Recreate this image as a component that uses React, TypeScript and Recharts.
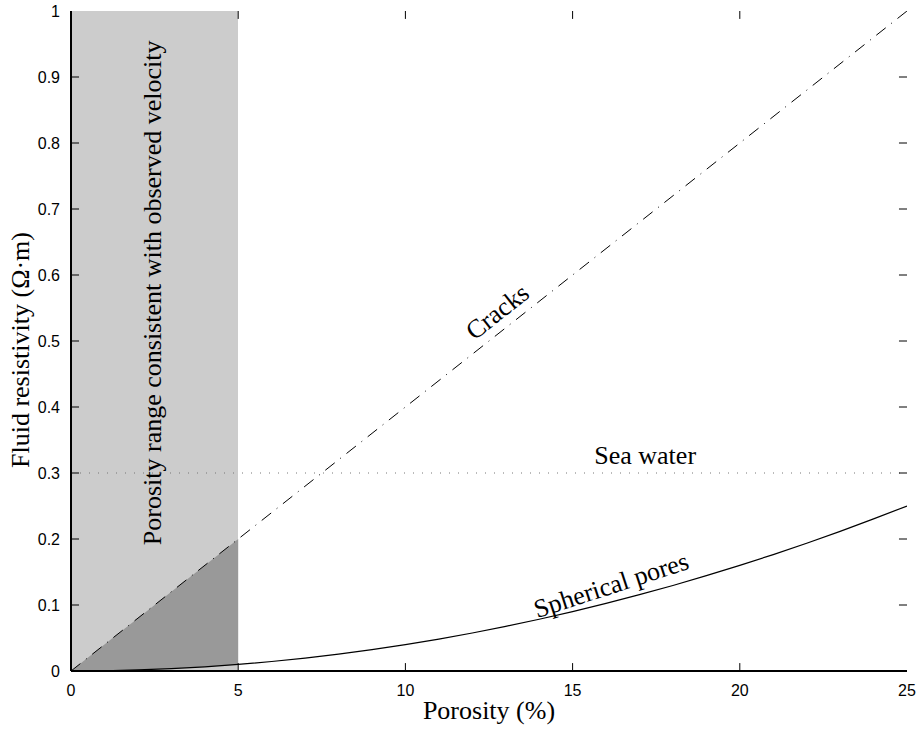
import React from 'react';
import {
  ComposedChart,
  CartesianGrid,
  Line,
  Area,
  XAxis,
  YAxis,
  ReferenceDot,
} from 'recharts';

const SANS = '"Liberation Sans", Arial, Helvetica, sans-serif';
const SERIF = '"Liberation Serif", "Times New Roman", Times, serif';

// Axis ticks
const xTicks = [0, 5, 10, 15, 20, 25];
const yTicks = [0, 0.1, 0.2, 0.3, 0.4, 0.5, 0.6, 0.7, 0.8, 0.9, 1];
const X_MIN = 0;
const X_MAX = 25;
const Y_MIN = 0;
const Y_MAX = 1;

// Crack model: resistivity rises linearly with porosity
const cracksX = [0, 5, 10, 15, 20, 25];
const cracksY = [0, 0.2, 0.4, 0.6, 0.8, 1];

// Spherical pore model
const poresX = [0, 1, 2, 3, 4, 5, 6, 7, 8, 9, 10, 11, 12, 13, 14, 15, 16, 17, 18, 19, 20, 21, 22, 23, 24, 25];
const poresY = [
  0, 0.0004, 0.0016, 0.0036, 0.0064, 0.01, 0.0144, 0.0196, 0.0256, 0.0324, 0.04, 0.0484, 0.0576,
  0.0676, 0.0784, 0.09, 0.1024, 0.1156, 0.1296, 0.1444, 0.16, 0.1764, 0.1936, 0.2116, 0.2304, 0.25,
];

// Porosity range allowed by the velocity data, and the wedge between both models inside it
const rangeX = [0, 5];
const wedgeX = [0, 1, 2, 3, 4, 5];
const wedgeLow = [0, 0.0004, 0.0016, 0.0036, 0.0064, 0.01];
const wedgeHigh = [0, 0.04, 0.08, 0.12, 0.16, 0.2];

// Sea water resistivity
const seaWater = 0.3;

// In-plot annotations: [x, y, angle, text]
const notes: [number, number, number, string][] = [
  [12.74, 0.545, -38.3, 'Cracks'],
  [17.17, 0.327, 0, 'Sea water'],
  [16.15, 0.131, -18, 'Spherical pores'],
  [2.42, 0.573, -90, 'Porosity range consistent with observed velocity'],
];

const cracksData = cracksX.map((x, i) => ({ x, y: cracksY[i] }));
const poresData = poresX.map((x, i) => ({ x, y: poresY[i] }));
const seaData = [X_MIN, X_MAX].map((x) => ({ x, y: seaWater }));
const wedgeData = wedgeX.map((x, i) => ({ x, range: [wedgeLow[i], wedgeHigh[i]] }));

// band as a grid stripe between x ticks; a translucent black tint gives #ccc on white
// and keeps whatever lies underneath it visible
const bandFill = xTicks
  .slice(0, -1)
  .map((t) => (t >= rangeX[0] && t < rangeX[1] ? '#000000' : 'none'));

// inward tick length, in data units (about 8px each way)
const TICK_X = 0.24;
const TICK_Y = 0.012;

// short two-point segments for the inward frame ticks
const tickMarks = [
  ...xTicks.slice(1, -1).map((t) => [{ x: t, y: Y_MIN }, { x: t, y: Y_MIN + TICK_Y }]),
  ...xTicks.slice(1, -1).map((t) => [{ x: t, y: Y_MAX }, { x: t, y: Y_MAX - TICK_Y }]),
  ...yTicks.slice(1, -1).map((t) => [{ x: X_MIN, y: t }, { x: X_MIN + TICK_X, y: t }]),
  ...yTicks.slice(1, -1).map((t) => [{ x: X_MAX, y: t }, { x: X_MAX - TICK_X, y: t }]),
];

const tickStyle = { fontFamily: SANS, fontSize: 16, fill: '#000' };
const titleStyle = { fontFamily: SERIF, fontSize: 26, fill: '#000' };

// y-axis title drawn as plain rotated text
function YTitle({ viewBox }: any) {
  const x = viewBox.x + 29;
  const y = viewBox.y + viewBox.height / 2 + 9;
  return (
    <text
      transform={`translate(${x},${y}) rotate(-90)`}
      textAnchor="middle"
      style={titleStyle}
    >
      Fluid resistivity (Ω·m)
    </text>
  );
}

export default function App() {
  return (
    <div style={{ width: 918, height: 732, background: '#fff' }}>
      <style>{'body{margin:0}'}</style>
      <ComposedChart width={918} height={732} margin={{ top: 11, right: 11, bottom: 0, left: 0 }}>
        <CartesianGrid
          horizontal={false}
          vertical
          stroke="none"
          verticalFill={bandFill}
          fillOpacity={0.2}
        />
        <XAxis
          dataKey="x"
          type="number"
          domain={[X_MIN, X_MAX]}
          ticks={xTicks}
          allowDataOverflow
          height={61}
          tickLine={false}
          tickSize={0}
          tickMargin={14}
          tick={tickStyle}
          stroke="#000"
          axisLine={{ stroke: '#000', strokeWidth: 2 }}
          label={{
            value: 'Porosity (%)',
            position: 'insideBottom',
            offset: 13,
            style: titleStyle,
          }}
        />
        <XAxis
          xAxisId="top"
          orientation="top"
          type="number"
          domain={[X_MIN, X_MAX]}
          ticks={xTicks}
          height={0}
          tick={false}
          tickLine={false}
          axisLine={{ stroke: '#000', strokeWidth: 1.3 }}
        />
        <YAxis
          type="number"
          domain={[Y_MIN, Y_MAX]}
          ticks={yTicks}
          allowDataOverflow
          width={71}
          tickLine={false}
          tickSize={0}
          tickMargin={11}
          tick={tickStyle}
          stroke="#000"
          axisLine={{ stroke: '#000', strokeWidth: 2 }}
          label={{ content: YTitle }}
        />
        <YAxis
          yAxisId="right"
          orientation="right"
          type="number"
          domain={[Y_MIN, Y_MAX]}
          ticks={yTicks}
          width={0}
          tick={false}
          tickLine={false}
          axisLine={{ stroke: '#000', strokeWidth: 1.5 }}
        />

        {/* wedge between the two models inside the band */}
        <Area
          data={wedgeData}
          dataKey="range"
          type="linear"
          fill="#999999"
          fillOpacity={1}
          stroke="none"
          isAnimationActive={false}
        />
        <Line
          data={seaData}
          dataKey="y"
          type="linear"
          stroke="#777"
          strokeWidth={1}
          strokeDasharray="1 8"
          dot={false}
          isAnimationActive={false}
        />
        <Line
          data={cracksData}
          dataKey="y"
          type="linear"
          stroke="#000"
          strokeWidth={1}
          strokeDasharray="12 7 1 7"
          dot={false}
          isAnimationActive={false}
        />
        <Line
          data={poresData}
          dataKey="y"
          type="monotone"
          stroke="#000"
          strokeWidth={1.2}
          dot={false}
          isAnimationActive={false}
        />

        {tickMarks.map((seg, i) => (
          <Line
            key={`tick${i}`}
            data={seg}
            dataKey="y"
            type="linear"
            stroke="#000"
            strokeWidth={1}
            dot={false}
            activeDot={false}
            isAnimationActive={false}
          />
        ))}

        {notes.map(([x, y, angle, text]) => (
          <ReferenceDot
            key={text}
            x={x}
            y={y}
            r={0}
            fill="none"
            stroke="none"
            label={{
              value: text,
              position: 'center',
              angle,
              style: titleStyle,
            }}
          />
        ))}
      </ComposedChart>
    </div>
  );
}
